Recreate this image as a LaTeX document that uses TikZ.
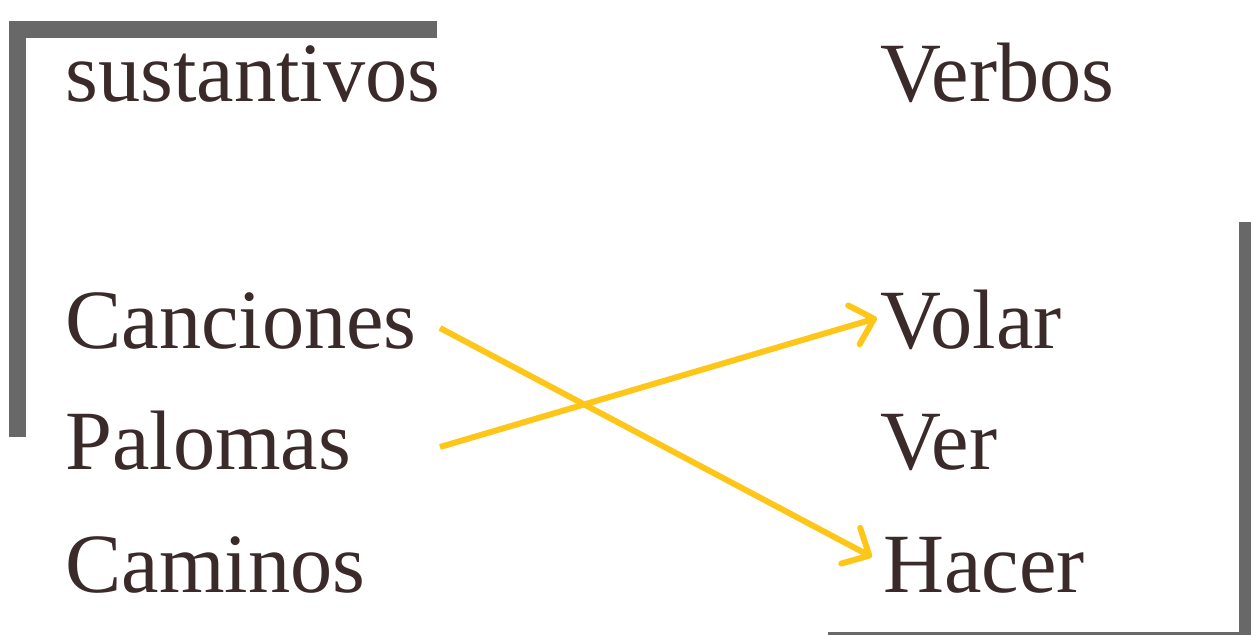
\documentclass[tikz,border=0pt]{standalone}
\usepackage{fontspec}
\setmainfont{Liberation Serif}
\usepackage{tikz}
\usetikzlibrary{arrows.meta,calc}
\definecolor{ink}{RGB}{58,42,42}
\definecolor{frame}{RGB}{104,104,104}
\definecolor{gold}{RGB}{255,198,26}

\begin{document}
\begin{tikzpicture}[x=0.02cm, y=-0.02cm,
        word/.style={anchor=base west, inner sep=0pt, text=ink,
            font=\fontsize{48}{48}\selectfont},
        link/.style={draw=gold, line width=3.4pt,
            -{Straight Barb[length=12pt, width=23pt, round]}}]
        \useasboundingbox (0, 0) rectangle (1251, 635);
        % frames
        \fill[frame] (9, 21) rectangle (437, 38);
        \fill[frame] (9, 21) rectangle (26, 437);
        \fill[frame] (1239, 222) rectangle (1251, 635);
        \fill[frame] (828, 632) rectangle (1240, 634.5);
        % words
        \node[word] (sust) at (65, 102) {sustantivos};
        \node[word] (verbos) at (880, 102) {Verbos};
        \node[word] (canciones) at (65, 348) {Canciones};
        \node[word] (palomas) at (65, 469) {Palomas};
        \node[word] (caminos) at (65, 592) {Caminos};
        \node[word] (volar) at (880, 348) {Volar};
        \node[word] (ver) at (880, 469) {Ver};
        \node[word] (hacer) at (883, 592) {Hacer};
        % links
        \draw[link] ($(canciones.base west)+(375, -20)$) -- ($(hacer.base west)+(-11, -35)$);
        \draw[link] ($(palomas.base west)+(375, -22)$) -- ($(volar.base west)+(-3, -30)$);
    \end{tikzpicture}
\end{document}
